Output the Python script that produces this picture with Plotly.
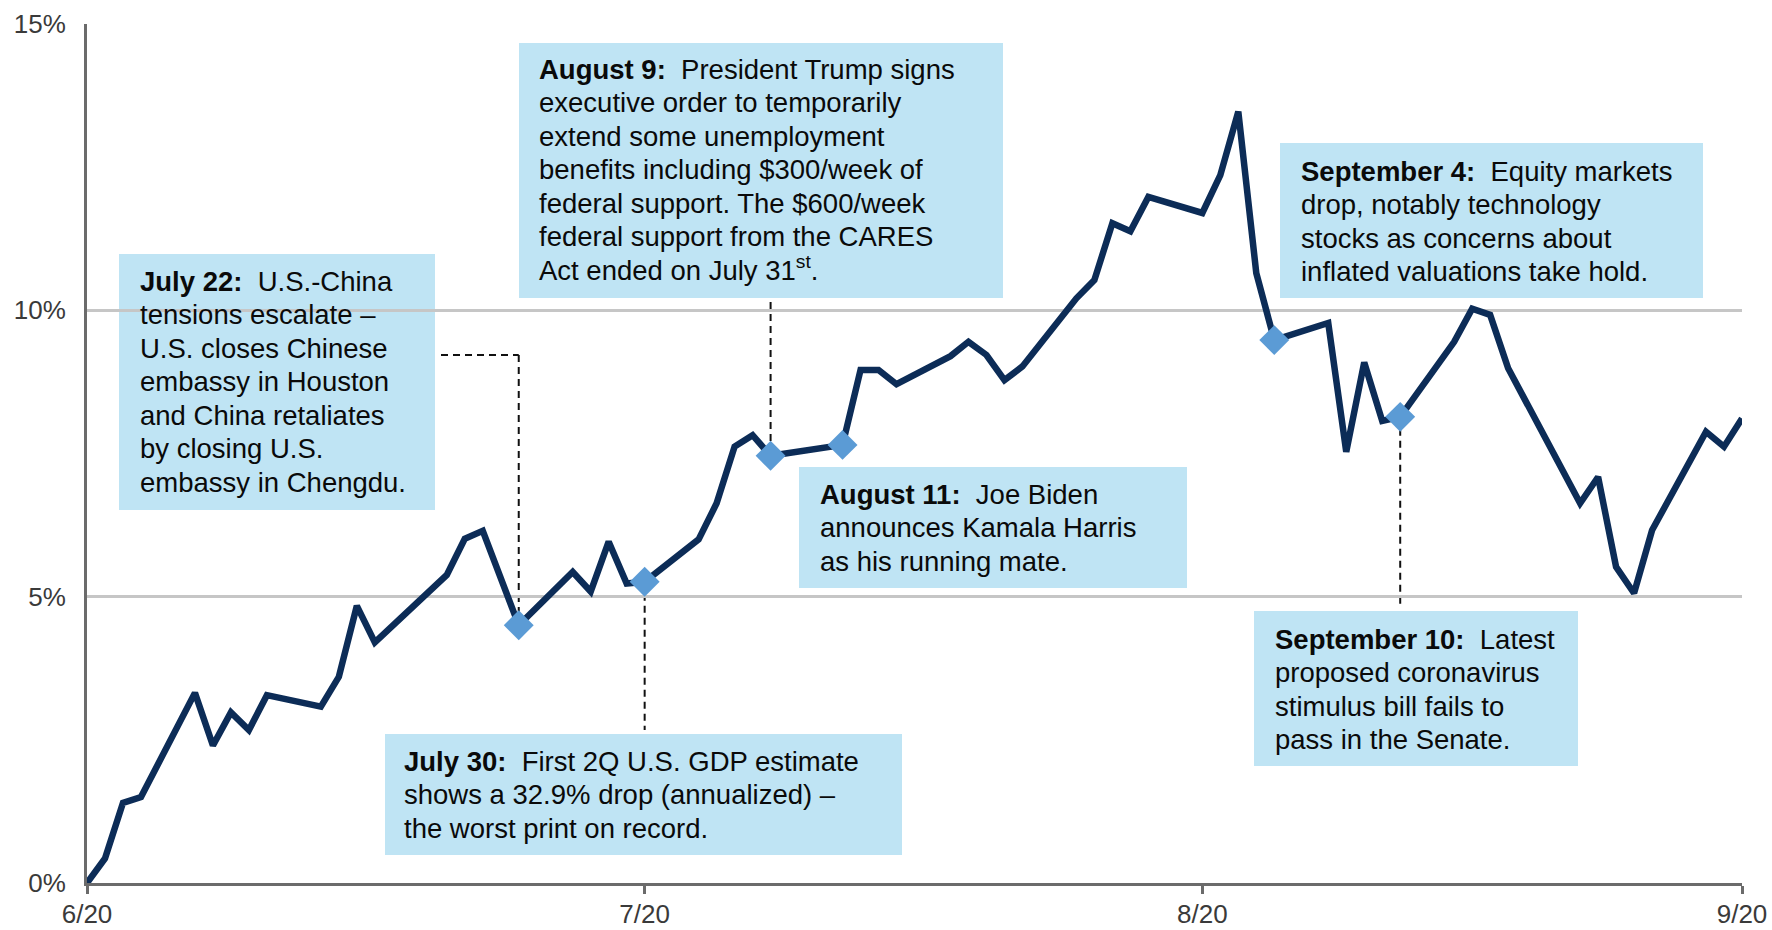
import plotly.graph_objects as go

# Cumulative return path (trading-day position vs. percent)
day_pos = [0, 1, 2, 3, 6, 7, 8, 9, 10, 13, 14, 15, 16, 20, 21, 22, 24, 27, 28, 29,
           30, 31, 34, 35, 36, 37, 38, 42, 43, 44, 45, 48, 49, 50, 51, 52, 55, 56,
           57, 58, 59, 62, 63, 64, 65, 66, 69, 70, 71, 72, 73, 76, 77, 78, 79, 83,
           84, 85, 86, 87, 90, 91, 92]
return_pct = [0.0, 0.43, 1.40, 1.50, 3.32, 2.40, 2.98, 2.67, 3.28, 3.08, 3.60, 4.84,
              4.20, 5.38, 6.01, 6.15, 4.50, 5.43, 5.09, 5.96, 5.23, 5.26, 6.00, 6.63,
              7.62, 7.82, 7.46, 7.65, 8.96, 8.96, 8.71, 9.20, 9.45, 9.22, 8.78, 9.02,
              10.21, 10.53, 11.52, 11.38, 11.98, 11.70, 12.36, 13.47, 10.65, 9.48,
              9.78, 7.53, 9.09, 8.07, 8.14, 9.45, 10.03, 9.92, 8.99, 6.63, 7.09, 5.52,
              5.06, 6.16, 7.88, 7.62, 8.11]

# Highlighted events (positions on the same axis)
event_pos = [24, 31, 38, 42, 66, 73]

x_tick_pos = [0, 31, 62, 92]
x_tick_text = ["6/20", "7/20", "8/20", "9/20"]
y_tick_vals = [0, 5, 10, 15]
y_tick_text = ["0%", "5%", "10%", "15%"]

event_notes = [
    ["<b>July 22:</b>\u00a0 U.S.-China", "tensions escalate –", "U.S. closes Chinese",
     "embassy in Houston", "and China retaliates", "by closing U.S.",
     "embassy in Chengdu."],
    ["<b>July 30:</b>\u00a0 First 2Q U.S. GDP estimate",
     "shows a 32.9% drop (annualized) –", "the worst print on record."],
    ["<b>August 9:</b>\u00a0 President Trump signs", "executive order to temporarily",
     "extend some unemployment", "benefits including $300/week of",
     "federal support. The $600/week", "federal support from the CARES",
     "Act ended on July 31<sup>st</sup>."],
    ["<b>August 11:</b>\u00a0 Joe Biden", "announces Kamala Harris",
     "as his running mate."],
    ["<b>September 4:</b>\u00a0 Equity markets", "drop, notably technology",
     "stocks as concerns about", "inflated valuations take hold."],
    ["<b>September 10:</b>\u00a0 Latest", "proposed coronavirus",
     "stimulus bill fails to", "pass in the Senate."],
]

# ---- page geometry (pixels) ----
W, H = 1772, 930
ML, MR, MT, MB = 87, 30, 24, 47
PW, PH = W - ML - MR, H - MT - MB


def fx(px):
    return (px - ML) / PW


def fy(py):
    return (H - MB - py) / PH


FONT = "Liberation Sans, Arial, sans-serif"
NOTE_SIZE = 27.5
LINE_STEP = 33.5
BOX_FILL = "#BFE4F4"
LINE_COLOR = "#0C2C57"
MARKER_COLOR = "#5B9BD5"
AXIS_COLOR = "#6B6B6B"
LABEL_COLOR = "#3A3A3A"

# note boxes: (left, top, right, bottom) and text origin (left, first-line centre)
boxes = [
    (119, 254, 435, 510, 139, 283),
    (385, 734, 902, 855, 403, 763),
    (519, 43, 1003, 298, 538, 71),
    (799, 467, 1187, 588, 819, 496),
    (1280, 143, 1703, 298, 1300, 173),
    (1254, 611, 1578, 766, 1274, 641),
]

pos_to_val = dict(zip(day_pos, return_pct))
event_vals = [pos_to_val[p] for p in event_pos]

fig = go.Figure()
fig.add_trace(go.Scatter(
    x=day_pos, y=return_pct, mode="lines",
    line=dict(color=LINE_COLOR, width=6.5),
    hoverinfo="skip", showlegend=False,
))
fig.add_trace(go.Scatter(
    x=event_pos, y=event_vals, mode="markers",
    marker=dict(symbol="diamond", size=23, color=MARKER_COLOR, line=dict(width=0)),
    hoverinfo="skip", showlegend=False,
))

shapes = []
annotations = []
for (x0, y0, x1, y1, tx, tc), lines in zip(boxes, event_notes):
    shapes.append(dict(type="rect", xref="paper", yref="paper",
                       x0=fx(x0), x1=fx(x1), y0=fy(y1), y1=fy(y0),
                       fillcolor=BOX_FILL, line=dict(width=0), layer="below"))
    for i, line in enumerate(lines):
        centre = tc + i * LINE_STEP
        annotations.append(dict(xref="paper", yref="paper", x=fx(tx),
                                y=fy(centre + 0.57 * NOTE_SIZE - 1),
                                xanchor="left", yanchor="bottom", align="left",
                                showarrow=False, text=line, borderpad=0,
                                font=dict(family=FONT, size=NOTE_SIZE,
                                          color="#0A0A0A")))

dash = dict(color="#111111", width=2, dash="7px,5px")


def py_of(v):
    return H - MB - v / 15 * PH


# leader lines from notes to event markers
leaders = [
    (event_pos[0], 355, py_of(event_vals[0])),
    (event_pos[1], py_of(event_vals[1]), 730),
    (event_pos[2], 302, py_of(event_vals[2])),
    (event_pos[5], py_of(event_vals[5]), 605),
]
for xp, ya, yb in leaders:
    shapes.append(dict(type="line", xref="x", yref="paper", x0=xp, x1=xp,
                       y0=fy(ya), y1=fy(yb), line=dash, layer="between"))
shapes.append(dict(type="line", xref="paper", yref="paper",
                   x0=fx(441), x1=fx(ML + event_pos[0] / 92 * PW),
                   y0=fy(355), y1=fy(355), line=dash, layer="between"))

fig.update_layout(
    width=W, height=H,
    margin=dict(l=ML, r=MR, t=MT, b=MB, pad=0),
    paper_bgcolor="white", plot_bgcolor="white",
    shapes=shapes, annotations=annotations,
    font=dict(family=FONT),
    xaxis=dict(range=[0, 92], tickvals=x_tick_pos, ticktext=x_tick_text,
               automargin=False, showgrid=False, zeroline=False, showline=True,
               linecolor=AXIS_COLOR, linewidth=3,
               ticks="outside", ticklen=8, tickwidth=3, tickcolor=AXIS_COLOR,
               ticklabelstandoff=-2,
               tickfont=dict(family=FONT, size=26, color=LABEL_COLOR)),
    yaxis=dict(range=[0, 15], tickvals=y_tick_vals, ticktext=y_tick_text,
               automargin=False, showgrid=True, gridcolor="#C6C6C6", gridwidth=3,
               zeroline=False, showline=True, linecolor=AXIS_COLOR, linewidth=3,
               ticks="", ticklabelstandoff=13,
               tickfont=dict(family=FONT, size=26, color=LABEL_COLOR)),
)

fig.write_html("out.html")
